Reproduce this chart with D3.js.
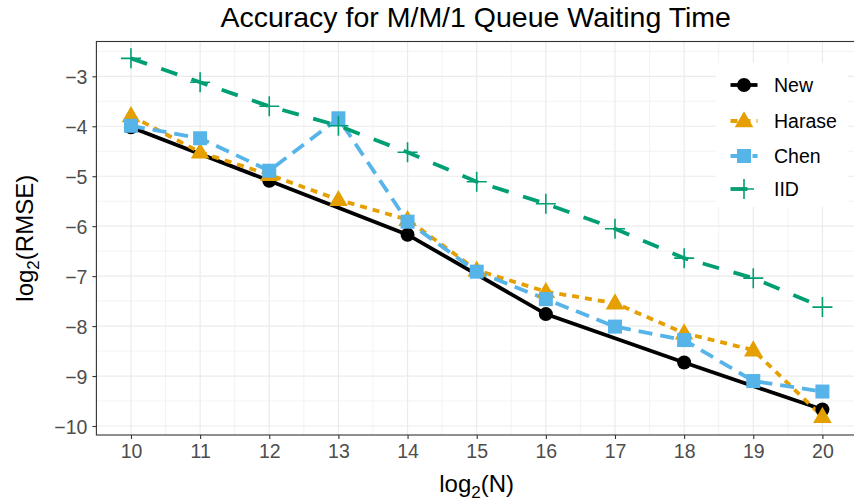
<!DOCTYPE html>
<html>
<head>
<meta charset="utf-8">
<script src="https://cdn.jsdelivr.net/npm/d3@7"></script>
<style>
  body { margin: 0; background: #fff; }
  svg { font-family: "Liberation Sans", Arial, Helvetica, sans-serif; }
</style>
</head>
<body>
<svg id="chart" width="854" height="501"></svg>
<script>
// data
const nAll = [10, 11, 12, 13, 14, 15, 16, 17, 18, 19, 20];
const nEven = [10, 12, 14, 16, 18, 20];
const newVals = [-4.02, -5.09, -6.17, -7.76, -8.73, -9.67];
const haraseVals = [-3.79, -4.52, -4.97, -5.47, -5.87, -6.88, -7.31, -7.54, -8.14, -8.48, -9.81];
const chenVals = [-3.99, -4.24, -4.89, -3.84, -5.91, -6.91, -7.46, -8.01, -8.28, -9.10, -9.31];
const iidVals = [-2.64, -3.12, -3.60, -3.99, -4.52, -5.11, -5.55, -6.05, -6.64, -7.04, -7.62];
const yTicks = [-3, -4, -5, -6, -7, -8, -9, -10];

const series = [
  { name: "New", xs: nEven, ys: newVals, color: "#000000", dash: null, shape: "circle" },
  { name: "Harase", xs: nAll, ys: haraseVals, color: "#E69F00", dash: "7,6", shape: "triangle" },
  { name: "Chen", xs: nAll, ys: chenVals, color: "#56B4E9", dash: "14,8", shape: "square" },
  { name: "IID", xs: nAll, ys: iidVals, color: "#009E73", dash: "17,15", shape: "plus" }
];

const svg = d3.select("#chart");
const pLeft = 96.4, pRight = 857, pTop = 41.5, pBottom = 435;

const x = d3.scaleLinear().domain([9.5, 20.5]).range([pLeft, pRight]);
const y = d3.scaleLinear().domain([-10.18, -2.303]).range([pBottom, pTop]);

const plot = svg.append("g");

// grid
const minorX = d3.range(9.5, 21, 1), minorY = d3.range(-10.5, -2, 1);
plot.selectAll(".gxm").data(minorX).join("line")
  .attr("x1", d => x(d)).attr("x2", d => x(d)).attr("y1", pTop).attr("y2", pBottom)
  .attr("stroke", "#EBEBEB").attr("stroke-width", 0.6);
plot.selectAll(".gym").data(minorY.filter(d => y(d) > pTop && y(d) < pBottom)).join("line")
  .attr("x1", pLeft).attr("x2", pRight).attr("y1", d => y(d)).attr("y2", d => y(d))
  .attr("stroke", "#EBEBEB").attr("stroke-width", 0.6);
plot.selectAll(".gx").data(nAll).join("line")
  .attr("x1", d => x(d)).attr("x2", d => x(d)).attr("y1", pTop).attr("y2", pBottom)
  .attr("stroke", "#EBEBEB").attr("stroke-width", 1.2);
plot.selectAll(".gy").data(yTicks).join("line")
  .attr("x1", pLeft).attr("x2", pRight).attr("y1", d => y(d)).attr("y2", d => y(d))
  .attr("stroke", "#EBEBEB").attr("stroke-width", 1.2);

// lines
const line = d3.line().x(d => x(d[0])).y(d => y(d[1]));
series.forEach(s => {
  const pts = s.xs.map((v, i) => [v, s.ys[i]]);
  plot.append("path").datum(pts)
    .attr("d", line).attr("fill", "none")
    .attr("stroke", s.color).attr("stroke-width", 3.8)
    .attr("stroke-dasharray", s.dash);
});

function drawShape(g, shape, color) {
  if (shape === "circle") {
    g.append("circle").attr("r", 7).attr("fill", color);
  } else if (shape === "triangle") {
    g.append("path").attr("d", d3.symbol(d3.symbolTriangle, 150)()).attr("transform", "translate(0,1)").attr("fill", color);
  } else if (shape === "square") {
    g.append("rect").attr("x", -7).attr("y", -7).attr("width", 14).attr("height", 14).attr("fill", color);
  } else {
    g.append("path").attr("d", "M-10,0H10M0,-10V10").attr("stroke", color).attr("stroke-width", 1.6);
  }
}

series.forEach(s => {
  s.xs.forEach((v, i) => {
    const g = plot.append("g").attr("transform", `translate(${x(v)},${y(s.ys[i])})`);
    drawShape(g, s.shape, s.color);
  });
});

// panel border
svg.append("rect").attr("x", pLeft).attr("y", pTop)
  .attr("width", pRight - pLeft).attr("height", pBottom - pTop)
  .attr("fill", "none").attr("stroke", "#333333").attr("stroke-width", 1.1);

// axes
const xAxis = svg.append("g").attr("transform", `translate(0,${pBottom})`)
  .call(d3.axisBottom(x).tickValues(nAll).tickSize(4).tickPadding(4));
const yAxis = svg.append("g").attr("transform", `translate(${pLeft},0)`)
  .call(d3.axisLeft(y).tickValues(yTicks).tickSize(4).tickPadding(4)
    .tickFormat(d => "\u2212" + Math.abs(d)));
[xAxis, yAxis].forEach(a => {
  a.select(".domain").remove();
  a.selectAll(".tick line").attr("stroke", "#333333").attr("stroke-width", 1.1);
  a.selectAll(".tick text").attr("fill", "#4D4D4D").style("font-size", "19.5px");
});
xAxis.selectAll(".tick text").attr("dy", "0.78em");
yAxis.selectAll(".tick text").attr("dy", "0.36em").attr("dx", "-1");

// title and axis titles
svg.append("text").attr("x", (pLeft + pRight) / 2 - 1).attr("y", 27)
  .attr("text-anchor", "middle").style("font-size", "28.5px").attr("fill", "#000")
  .text("Accuracy for M/M/1 Queue Waiting Time");

const xt = svg.append("text").attr("x", (pLeft + pRight) / 2).attr("y", 492)
  .attr("text-anchor", "middle").style("font-size", "24px").attr("fill", "#000");
xt.append("tspan").text("log");
xt.append("tspan").attr("dy", 6).style("font-size", "17px").text("2");
xt.append("tspan").attr("dy", -6).text("(N)");

const yt = svg.append("text").attr("transform", `translate(33,${(pTop + pBottom) / 2}) rotate(-90)`)
  .attr("text-anchor", "middle").style("font-size", "24px").attr("fill", "#000");
yt.append("tspan").text("log");
yt.append("tspan").attr("dy", 6).style("font-size", "17px").text("2");
yt.append("tspan").attr("dy", -6).text("(RMSE)");

// legend
const legend = svg.append("g");
legend.append("rect").attr("x", 716).attr("y", 63).attr("width", 132).attr("height", 144).attr("fill", "#fff");
const rowY = [85, 121, 156, 189];
series.forEach((s, i) => {
  const g = legend.append("g").attr("transform", `translate(744,${rowY[i]})`);
  g.append("line").attr("x1", -13.5).attr("x2", 13.5)
    .attr("stroke", s.color).attr("stroke-width", 3.8).attr("stroke-dasharray", s.dash);
  drawShape(g, s.shape, s.color);
  legend.append("text").attr("x", 774).attr("y", rowY[i]).attr("dy", "0.35em")
    .style("font-size", "19.5px").attr("fill", "#000").text(s.name);
});
</script>
</body>
</html>
